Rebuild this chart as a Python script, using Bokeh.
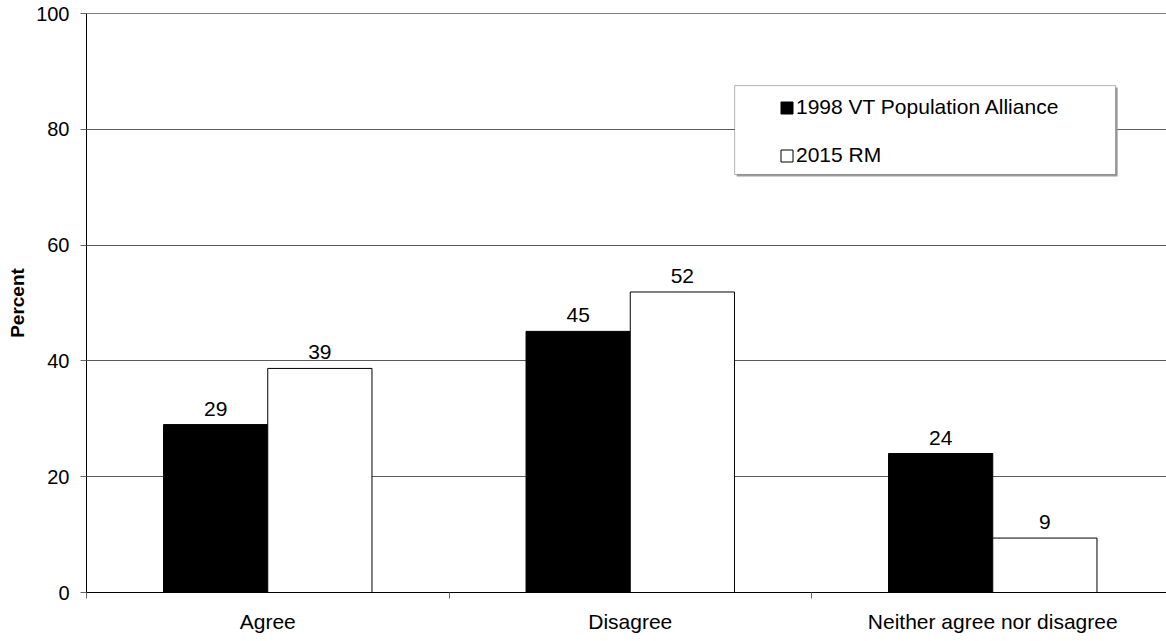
from bokeh.plotting import figure
from bokeh.models import (Range1d, FixedTicker, Legend, LegendItem, BoxAnnotation,
                          Span, ColumnDataSource)
from bokeh.embed import file_html
from bokeh.resources import INLINE
from bokeh.core.properties import value

categories = ["Agree", "Disagree", "Neither agree nor disagree"]
series_names = ["1998 VT Population Alliance", "2015 RM"]
vals_1998 = [29.0, 45.1, 24.0]
vals_2015 = [38.7, 51.9, 9.4]
labels_1998 = ["29", "45", "24"]
labels_2015 = ["39", "52", "9"]
y_ticks = [0, 20, 40, 60, 80, 100]

FONT = "Liberation Sans"
bar_w = 0.2875
centers = [i + 0.5 for i in range(len(categories))]
x1998 = [c - bar_w / 2 for c in centers]
x2015 = [c + bar_w / 2 for c in centers]

p = figure(width=1166, height=641, output_backend="svg", toolbar_location=None,
           x_range=Range1d(0, 1080 / 362.5), y_range=Range1d(0, 100),
           min_border_left=86, min_border_right=0, min_border_top=13, min_border_bottom=49)
p.outline_line_color = None
p.background_fill_color = "white"

# y axis
p.yaxis.ticker = FixedTicker(ticks=y_ticks)
p.yaxis.major_tick_out = 6
p.yaxis.major_tick_in = 0
p.yaxis.minor_tick_line_color = None
p.yaxis.axis_line_color = "black"
p.yaxis.major_tick_line_color = "#666666"
p.yaxis.major_label_text_font = FONT
p.yaxis.major_label_text_font_size = "20px"
p.yaxis.major_label_text_color = "black"
p.yaxis.major_label_standoff = 11
p.yaxis.axis_label = "Percent"
p.yaxis.axis_label_text_font = FONT
p.yaxis.axis_label_text_font_size = "19px"
p.yaxis.axis_label_text_font_style = "bold"
p.yaxis.axis_label_text_color = "black"
p.yaxis.axis_label_standoff = 5

# x axis: labels at centres, ticks at category boundaries (minor ticks)
p.xaxis.ticker = FixedTicker(ticks=centers, minor_ticks=[0, 1, 2, 3])
p.xaxis.major_label_overrides = {c: cat for c, cat in zip(centers, categories)}
p.xaxis.major_tick_out = 0
p.xaxis.major_tick_in = 0
p.xaxis.minor_tick_out = 6
p.xaxis.minor_tick_in = 0
p.xaxis.minor_tick_line_color = "#666666"
p.xaxis.axis_line_color = "black"
p.xaxis.major_label_text_font = FONT
p.xaxis.major_label_text_font_size = "21px"
p.xaxis.major_label_text_color = "black"
p.xaxis.major_label_standoff = 11

p.xgrid.grid_line_color = None
p.ygrid.ticker = FixedTicker(ticks=y_ticks)
p.ygrid.grid_line_color = "#5a5a5a"
p.ygrid.grid_line_width = 1

p.add_layout(Span(location=100, dimension="width", line_color="black", line_width=1))

src = ColumnDataSource(dict(x1=x1998, x2=x2015, v1=vals_1998, v2=vals_2015,
                            l1=labels_1998, l2=labels_2015))
r1 = p.vbar(x="x1", top="v1", width=bar_w, bottom=0, source=src,
            fill_color="black", line_color="black", line_width=1)
r2 = p.vbar(x="x2", top="v2", width=bar_w, bottom=0, source=src,
            fill_color="white", line_color="black", line_width=1)

for xcol, vcol, lcol in [("x1", "v1", "l1"), ("x2", "v2", "l2")]:
    p.text(x=xcol, y=vcol, text=lcol, source=src, text_align="center",
           text_baseline="bottom", y_offset=-9, text_font=value(FONT),
           text_font_size="21px", text_color="black")

# legend frame (shadow + box)
sx = 2 / 362.5
sy = 2 / 5.79
p.add_layout(BoxAnnotation(left=1.788 + sx, right=2.839 + sx, bottom=72.2 - sy, top=87.55 - sy,
                           fill_color="#9a9a9a", fill_alpha=1, line_color=None, level="annotation"))
p.add_layout(BoxAnnotation(left=1.788, right=2.839, bottom=72.2, top=87.55,
                           fill_color="white", fill_alpha=1, line_color="black", line_width=1,
                           level="annotation"))

legend = Legend(items=[LegendItem(label=series_names[0], renderers=[r1]),
                       LegendItem(label=series_names[1], renderers=[r2])],
                location=(693, 425), padding=0, margin=0, spacing=24,
                glyph_width=15, glyph_height=15, label_height=21, label_standoff=2,
                label_text_font=FONT, label_text_font_size="21px",
                label_text_color="black",
                border_line_color=None, background_fill_alpha=0)
p.add_layout(legend)

open("out.html", "w").write(file_html(p, INLINE))
